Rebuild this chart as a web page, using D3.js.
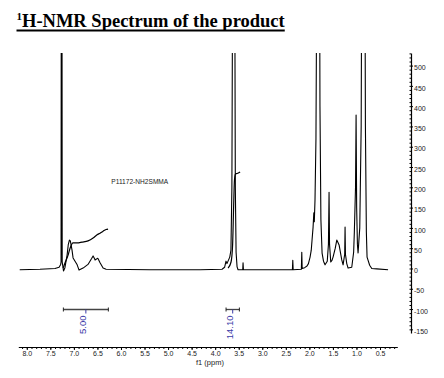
<!DOCTYPE html>
<html><head><meta charset="utf-8">
<script src="https://cdn.jsdelivr.net/npm/d3@7"></script>
<style>
html,body{margin:0;padding:0;background:#fff;}
svg{display:block;}
</style></head>
<body>
<svg id="c" width="444" height="378"></svg>
<script>
// ---- data ----
const titleText = "H-NMR Spectrum of the product";
const sampleLabel = "P11172-NH2SMMA";
const xTickLabels = [8.0,7.5,7.0,6.5,6.0,5.5,5.0,4.5,4.0,3.5,3.0,2.5,2.0,1.5,1.0,0.5];
const yTickLabels = [500,450,400,350,300,250,200,150,100,50,0,-50,-100,-150];

const specPpm = [8.15,7.72,7.40,7.314,7.28,7.272,7.26,7.248,7.22,7.19,7.144,7.12,7.095,7.075,7.04,7.017,6.93,6.89,6.805,6.70,6.62,6.592,6.56,6.55,6.50,6.486,6.444,6.38,6.316,5.38,4.32,3.854,3.80,3.77,3.75,3.72,3.69,3.665,3.645,3.625,3.606,3.588,3.572,3.556,3.535,3.514,3.415,3.408,3.40,2.36,2.352,2.344,2.17,2.161,2.153,2.10,2.05,2.02,1.985,1.96,1.943,1.921,1.905,1.895,1.88,1.86,1.84,1.825,1.809,1.793,1.775,1.755,1.73,1.70,1.667,1.62,1.595,1.582,1.572,1.546,1.52,1.497,1.45,1.418,1.40,1.369,1.312,1.284,1.25,1.242,1.234,1.206,1.178,1.10,1.06,1.045,1.02,1.008,0.996,0.98,0.966,0.93,0.90,0.875,0.853,0.831,0.81,0.79,0.775,0.72,0.675,0.569,0.329];
const specInt = [-3,-2,0,3,10,16,2000,16,-6,2,33,58,70,68,46,26,9,-4,1,10,25,31,24,21,25,24,14,1,-2,-3,-3,-2,3,18,12,20,28,45,200,900,2000,900,200,40,4,-3,-3,14,-3,-3,20,-3,-2,40,0,2,6,12,28,45,70,102,137,115,170,320,800,1200,2000,1200,400,120,38,18,9,18,60,188,60,16,20,28,50,70,66,58,21,9,35,102,35,12,1,3,40,90,200,378,150,60,38,100,350,1200,2000,1200,350,90,28,8,0,-1,-3];

const integ1Ppm = [7.229,7.187,7.123,7.081,7.017,6.932,6.826,6.699,6.592,6.507,6.444,6.38,6.316,6.274];
const integ1Int = [1,14,33,50,63,63,65,68,75,83,87,92,96,97];
const integ2Ppm = [3.726,3.663,3.63,3.61,3.59,3.57,3.535,3.471];
const integ2Int = [1,16,58,144,218,233,234,238];

const integFrom = [7.223,3.769];
const integTo = [6.268,3.486];
const integLabels = ["5.00","14.10"];

// ---- layout ----
const svg = d3.select("#c");
const x = d3.scaleLinear().domain([8.18,0.133]).range([18.3,397.3]);
const y = d3.scaleLinear().domain([-159,531]).range([333,53]);
const axisFont = "'Liberation Sans', Arial, sans-serif";

// title
const title = svg.append("text").attr("x",16.5).attr("y",26.5)
  .attr("font-family","'Liberation Serif','Times New Roman',serif")
  .attr("font-weight","bold").attr("font-size",18.5).attr("fill","#000");
title.append("tspan").attr("font-size",11).attr("dy",-7).text("1");
title.append("tspan").attr("dy",7).text(titleText);
const tw = title.node().getComputedTextLength();
svg.append("line").attr("x1",16.5).attr("x2",16.5+tw).attr("y1",30.5).attr("y2",30.5)
  .attr("stroke","#000").attr("stroke-width",2);

// clip
svg.append("defs").append("clipPath").attr("id","clp").append("rect")
  .attr("x",0).attr("y",53).attr("width",444).attr("height",300);

// spectrum
const specData = specPpm.map((p,i)=>[p,specInt[i]]);
const line = d3.line().x(d=>x(d[0])).y(d=>y(d[1]));
svg.append("path").datum(specData).attr("d",line).attr("clip-path","url(#clp)")
  .attr("fill","none").attr("stroke","#000").attr("stroke-width",1.1).attr("stroke-linejoin","round");

// integral curves
const curveLine = d3.line().x(d=>x(d[0])).y(d=>y(d[1])).curve(d3.curveMonotoneX);
[[integ1Ppm,integ1Int],[integ2Ppm,integ2Int]].forEach(([pp,ii])=>{
  const dd = pp.map((p,i)=>[p,ii[i]]).reverse();
  svg.append("path").datum(dd).attr("d",curveLine)
    .attr("fill","none").attr("stroke","#000").attr("stroke-width",1.2);
});

// sample label
svg.append("text").attr("x",x(5.6)).attr("y",y(207)).attr("text-anchor","middle")
  .attr("font-family",axisFont).attr("font-size",6.6).attr("fill","#222").text(sampleLabel);

// integral brackets
const by = 309.5;
integFrom.forEach((f,i)=>{
  const t = integTo[i];
  const g = svg.append("g");
  g.append("line").attr("x1",x(f)).attr("x2",x(t)).attr("y1",by).attr("y2",by)
    .attr("stroke","#444").attr("stroke-width",1.3);
  [f,t].forEach(v=>g.append("line").attr("x1",x(v)).attr("x2",x(v)).attr("y1",by-2).attr("y2",by+2)
    .attr("stroke","#222").attr("stroke-width",1));
  const mid = (f+t)/2;
  g.append("line").attr("x1",x(mid)).attr("x2",x(mid)).attr("y1",by).attr("y2",by+4)
    .attr("stroke","#3a3aa8").attr("stroke-width",1);
  const lx = x(mid)-3, ly = by + 6;
  g.append("text").attr("transform",`translate(${lx},${ly}) rotate(-90)`)
    .attr("text-anchor","end").attr("dominant-baseline","central")
    .attr("font-family",axisFont).attr("font-size",9.5).attr("fill","#3a3aa8").text(integLabels[i]);
});

// x axis
const xMinor = d3.range(81).map(i=>+(8.1 - i*0.1).toFixed(1)).filter(v=>v<=8.18&&v>=0.133);
svg.append("g").attr("transform","translate(0,347)")
  .call(d3.axisBottom(x).tickValues(xMinor).tickSize(2).tickSizeOuter(0).tickFormat(""))
  .call(g=>g.select(".domain").attr("stroke","#000").attr("stroke-width",1.2));
const xa = svg.append("g").attr("transform","translate(0,347)")
  .call(d3.axisBottom(x).tickValues(xTickLabels).tickSize(3).tickSizeOuter(0).tickPadding(1).tickFormat(d3.format(".1f")));
xa.select(".domain").remove();
xa.selectAll("text").attr("font-family",axisFont).attr("font-size",7).attr("fill","#222");
svg.append("text").attr("x",210).attr("y",365).attr("text-anchor","middle")
  .attr("font-family",axisFont).attr("font-size",7.5).attr("fill","#222").text("f1 (ppm)");

// y axis
const yMinor = d3.range(-150,531,10);
svg.append("g").attr("transform","translate(411,0)")
  .call(d3.axisLeft(y).tickValues(yMinor).tickSize(1.5).tickSizeOuter(0).tickFormat(""))
  .call(g=>g.select(".domain").attr("stroke","#000").attr("stroke-width",1.2));
const ya = svg.append("g").attr("transform","translate(411,0)")
  .call(d3.axisRight(y).tickValues(yTickLabels).tickSize(2).tickSizeOuter(0).tickPadding(1).tickFormat(d=>String(d)));
ya.select(".domain").remove();
ya.selectAll("text").attr("font-family",axisFont).attr("font-size",7).attr("fill","#222").attr("dy","0.6em");
</script>
</body></html>
